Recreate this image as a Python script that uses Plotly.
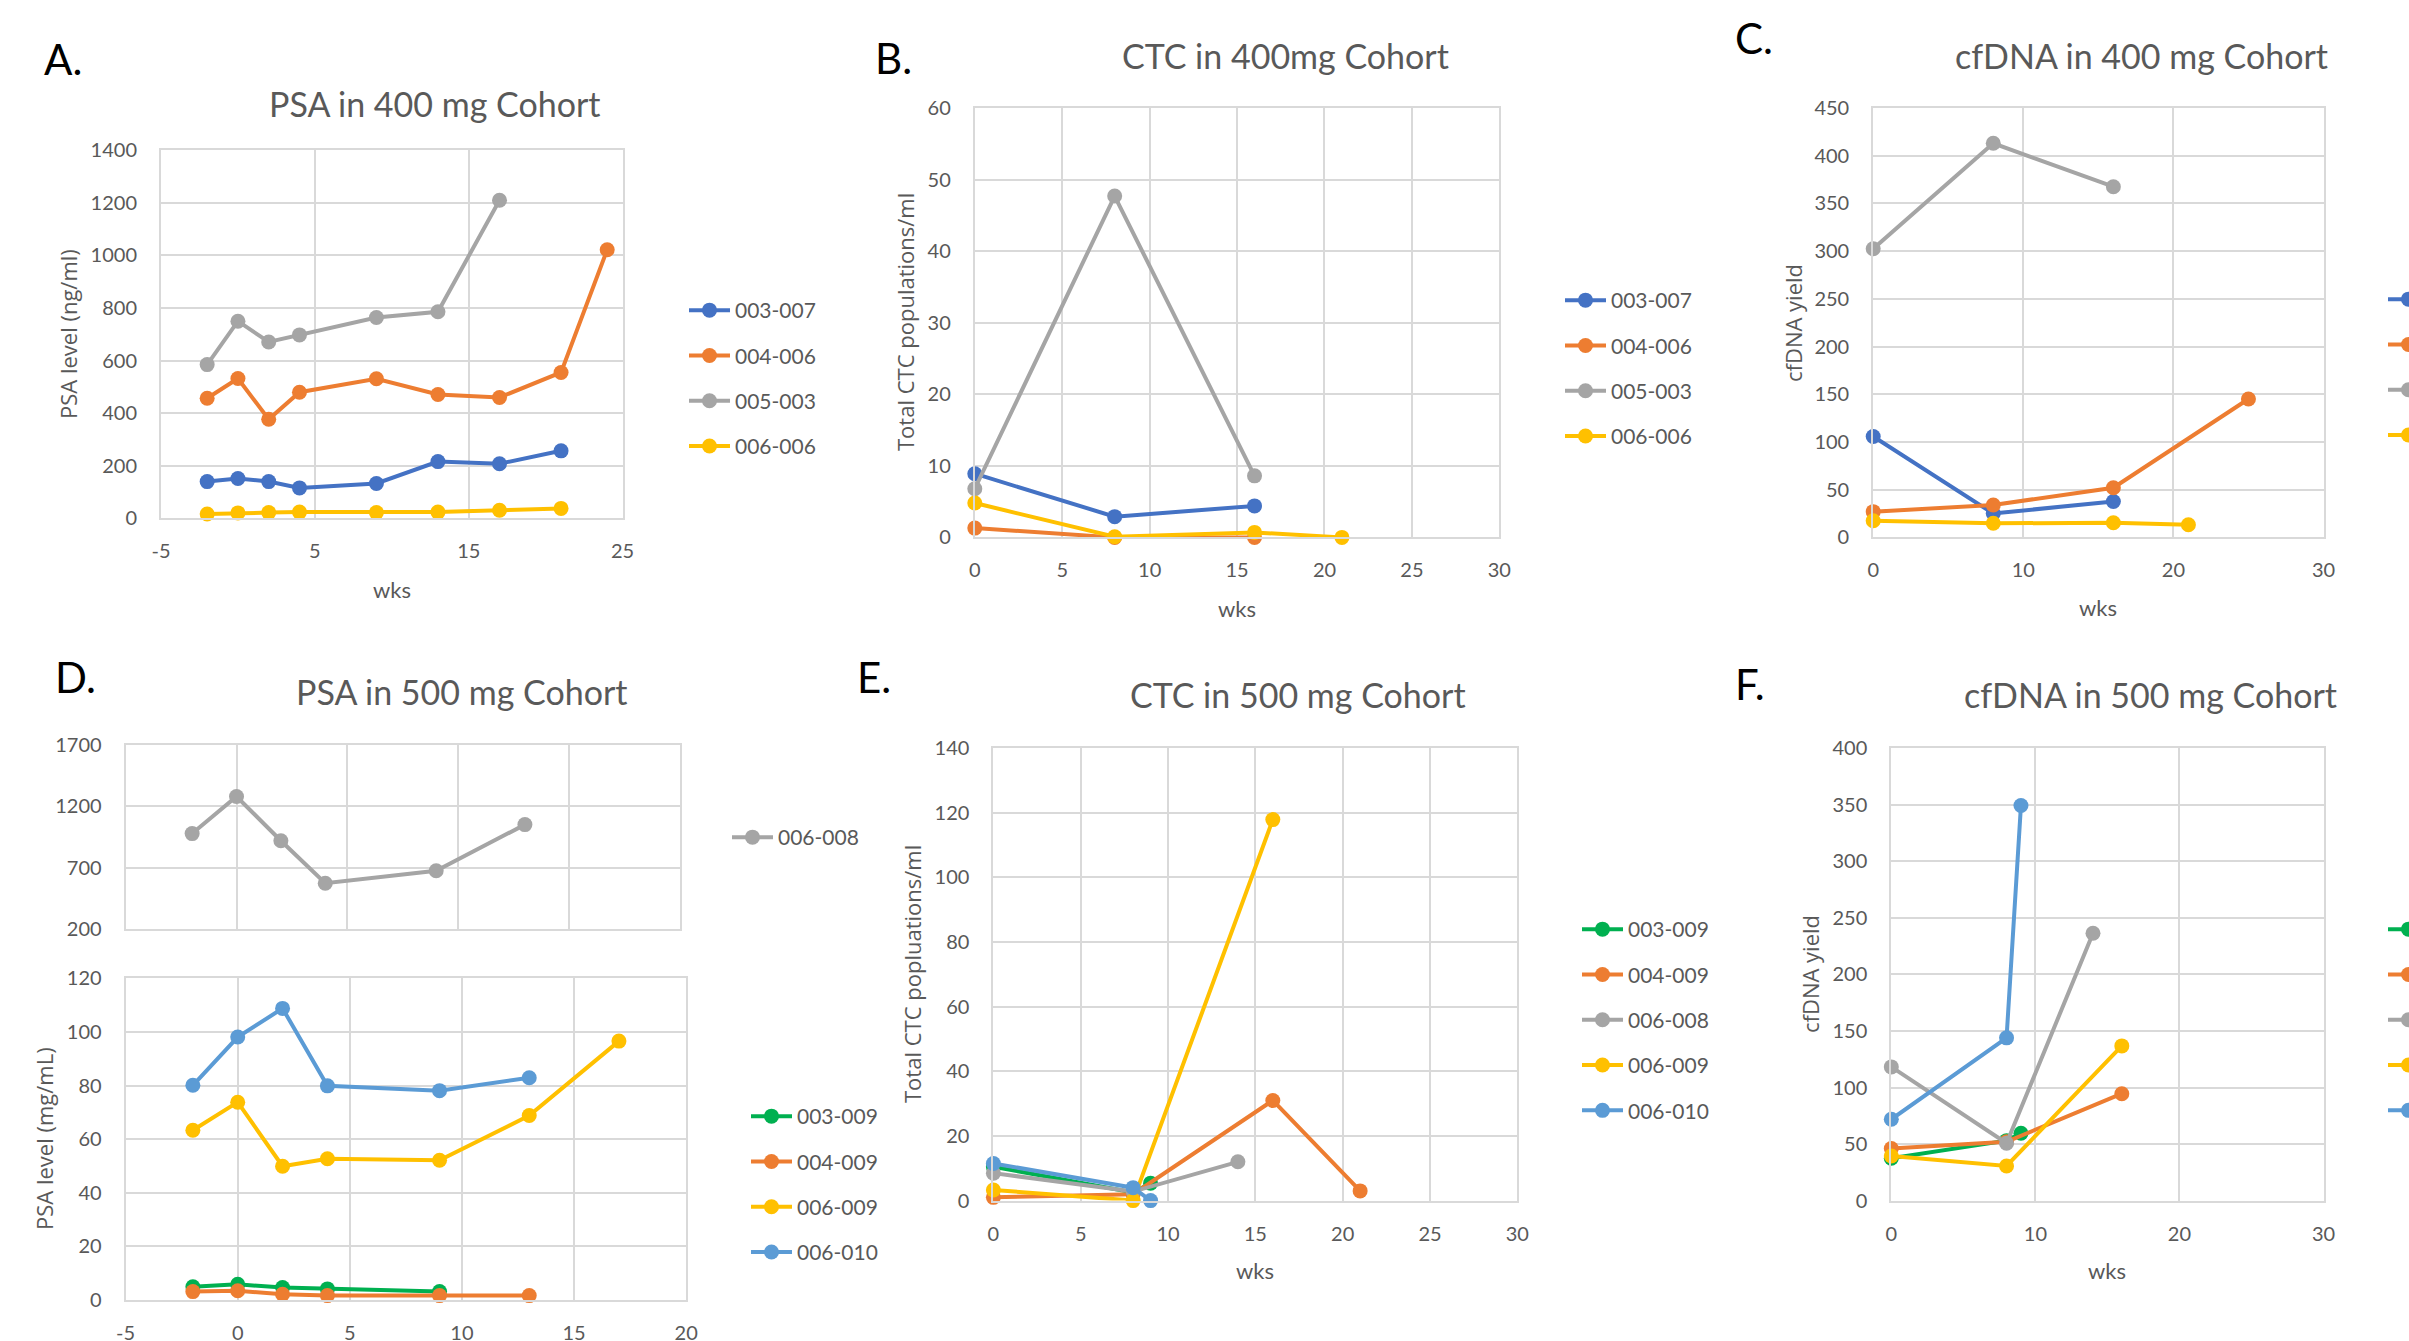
import plotly.graph_objects as go

W, H = 2409, 1341

# ---------------- DATA ----------------
# Panel A: PSA in 400 mg Cohort
A_x_003_007 = [-2, 0, 2, 4, 9, 13, 17, 21]
A_y_003_007 = [140, 152, 140, 116, 133, 216, 208, 257]
A_x_004_006 = [-2, 0, 2, 4, 9, 13, 17, 21, 24]
A_y_004_006 = [457, 532, 377, 480, 531, 471, 460, 555, 1022]
A_x_005_003 = [-2, 0, 2, 4, 9, 13, 17]
A_y_005_003 = [585, 750, 671, 698, 764, 786, 1210]
A_x_006_006 = [-2, 0, 2, 4, 9, 13, 17, 21]
A_y_006_006 = [17, 21, 22, 24, 22, 24, 31, 38]
A_xtick_vals = [-5, 5, 15, 25]
A_xtick_text = ["-5", "5", "15", "25"]

# Panel B: CTC in 400mg Cohort
B_x_003_007 = [0, 8, 16]
B_y_003_007 = [8.9, 2.9, 4.4]
B_x_004_006 = [0, 8, 16]
B_y_004_006 = [1.3, 0, 0]
B_x_005_003 = [0, 8, 16]
B_y_005_003 = [6.8, 47.7, 8.6]
B_x_006_006 = [0, 8, 16, 21]
B_y_006_006 = [4.8, 0.1, 0.7, 0]

# Panel C: cfDNA in 400 mg Cohort
C_x_003_007 = [0, 8, 16]
C_y_003_007 = [105.7, 25, 37.7]
C_x_004_006 = [0, 8, 16, 25]
C_y_004_006 = [27, 34, 52, 145]
C_x_005_003 = [0, 8, 16]
C_y_005_003 = [302.5, 413, 367.5]
C_x_006_006 = [0, 8, 16, 21]
C_y_006_006 = [17.5, 14.8, 15.3, 13.3]

# Panel D: PSA in 500 mg Cohort (broken axis)
D_x_006_008 = [-2, 0, 2, 4, 9, 13]
D_y_006_008 = [979, 1281, 921, 575, 677, 1052]
D_x_003_009 = [-2, 0, 2, 4, 9]
D_y_003_009 = [4.9, 5.8, 4.6, 4.1, 3.1]
D_x_004_009 = [-2, 0, 2, 4, 9, 13]
D_y_004_009 = [3.1, 3.4, 2.1, 1.6, 1.6, 1.6]
D_x_006_009 = [-2, 0, 2, 4, 9, 13, 17]
D_y_006_009 = [63.3, 73.8, 49.9, 52.7, 52.1, 68.8, 96.6]
D_x_006_010 = [-2, 0, 2, 4, 9, 13]
D_y_006_010 = [80.1, 98.1, 108.8, 79.9, 78.1, 82.9]
D_xtick_vals = [-5, 0, 5, 10, 15, 20]
D_xtick_text = ["-5", "0", "5", "10", "15", "20"]

# Panel E: CTC in 500 mg Cohort
E_x_003_009 = [0, 8, 9]
E_y_003_009 = [10.5, 2.5, 5.4]
E_x_004_009 = [0, 8, 16, 21]
E_y_004_009 = [1.0, 2.0, 31.0, 3.0]
E_x_006_008 = [0, 8, 14]
E_y_006_008 = [8.5, 2.8, 12.0]
E_x_006_009 = [0, 8, 16]
E_y_006_009 = [3.3, 0, 117.9]
E_x_006_010 = [0, 8, 9]
E_y_006_010 = [11.5, 4.0, 0]

# Panel F: cfDNA in 500 mg Cohort
F_x_003_009 = [0, 8, 9]
F_y_003_009 = [37.4, 53, 59.5]
F_x_004_009 = [0, 8, 16]
F_y_004_009 = [46, 52, 94.5]
F_x_006_008 = [0, 8, 14]
F_y_006_008 = [118.2, 50.7, 236.4]
F_x_006_009 = [0, 8, 16]
F_y_006_009 = [39.4, 30.6, 136.8]
F_x_006_010 = [0, 8, 9]
F_y_006_010 = [71.9, 143.9, 349.4]

# ---------------- STYLE ----------------
BLUE, ORANGE, GRAY, YELLOW, GREEN, LBLUE = "#4472C4", "#ED7D31", "#A5A5A5", "#FFC000", "#00B050", "#5B9BD5"
TXT = "#595959"
GRID = "#D9D9D9"


def px(x):
    return x / W


def py(y):
    return 1 - y / H


fig = go.Figure()


def add(x, y, name, color, xa, ya, legend):
    fig.add_trace(go.Scatter(
        x=x, y=y, name=name, mode="lines+markers",
        line=dict(color=color, width=4),
        marker=dict(color=color, size=15),
        xaxis=xa, yaxis=ya, legend=legend, legendgroup=legend + name,
        cliponaxis=False, showlegend=True,
    ))


# A
add(A_x_003_007, A_y_003_007, "003-007", BLUE, "x", "y", "legend")
add(A_x_004_006, A_y_004_006, "004-006", ORANGE, "x", "y", "legend")
add(A_x_005_003, A_y_005_003, "005-003", GRAY, "x", "y", "legend")
add(A_x_006_006, A_y_006_006, "006-006", YELLOW, "x", "y", "legend")
# B
add(B_x_003_007, B_y_003_007, "003-007", BLUE, "x2", "y2", "legend2")
add(B_x_004_006, B_y_004_006, "004-006", ORANGE, "x2", "y2", "legend2")
add(B_x_005_003, B_y_005_003, "005-003", GRAY, "x2", "y2", "legend2")
add(B_x_006_006, B_y_006_006, "006-006", YELLOW, "x2", "y2", "legend2")
# C
add(C_x_003_007, C_y_003_007, "003-007", BLUE, "x3", "y3", "legend3")
add(C_x_004_006, C_y_004_006, "004-006", ORANGE, "x3", "y3", "legend3")
add(C_x_005_003, C_y_005_003, "005-003", GRAY, "x3", "y3", "legend3")
add(C_x_006_006, C_y_006_006, "006-006", YELLOW, "x3", "y3", "legend3")
# D top
add(D_x_006_008, D_y_006_008, "006-008", GRAY, "x4", "y4", "legend4")
# D bottom
add(D_x_003_009, D_y_003_009, "003-009", GREEN, "x5", "y5", "legend5")
add(D_x_004_009, D_y_004_009, "004-009", ORANGE, "x5", "y5", "legend5")
add(D_x_006_009, D_y_006_009, "006-009", YELLOW, "x5", "y5", "legend5")
add(D_x_006_010, D_y_006_010, "006-010", LBLUE, "x5", "y5", "legend5")
# E
add(E_x_003_009, E_y_003_009, "003-009", GREEN, "x6", "y6", "legend6")
add(E_x_004_009, E_y_004_009, "004-009", ORANGE, "x6", "y6", "legend6")
add(E_x_006_008, E_y_006_008, "006-008", GRAY, "x6", "y6", "legend6")
add(E_x_006_009, E_y_006_009, "006-009", YELLOW, "x6", "y6", "legend6")
add(E_x_006_010, E_y_006_010, "006-010", LBLUE, "x6", "y6", "legend6")
# F
add(F_x_003_009, F_y_003_009, "003-009", GREEN, "x7", "y7", "legend7")
add(F_x_004_009, F_y_004_009, "004-009", ORANGE, "x7", "y7", "legend7")
add(F_x_006_008, F_y_006_008, "006-008", GRAY, "x7", "y7", "legend7")
add(F_x_006_009, F_y_006_009, "006-009", YELLOW, "x7", "y7", "legend7")
add(F_x_006_010, F_y_006_010, "006-010", LBLUE, "x7", "y7", "legend7")

TICKFONT = dict(family="Lato", size=20, color=TXT)


def xax(x0, x1, rng, dtick, tick0, anchor, labels=True, tickvals=None, ticktext=None):
    d = dict(domain=[px(x0), px(x1)], range=rng, dtick=dtick, tick0=tick0,
             anchor=anchor, showgrid=True, gridcolor=GRID, gridwidth=1.5,
             showline=True, mirror=True, linecolor=GRID, linewidth=2,
             zeroline=False, ticks="", tickfont=TICKFONT,
             showticklabels=labels, ticklabelstandoff=14, fixedrange=True)
    if tickvals is not None:
        d.update(tickmode="array", tickvals=tickvals, ticktext=ticktext)
    return d


def yax(y0, y1, rng, dtick, anchor):
    return dict(domain=[py(y1), py(y0)], range=rng, dtick=dtick, tick0=rng[0],
                anchor=anchor, showgrid=True, gridcolor=GRID, gridwidth=1.5,
                showline=True, mirror=True, linecolor=GRID, linewidth=2,
                zeroline=False, ticks="", tickfont=TICKFONT,
                ticklabelstandoff=18, fixedrange=True)


LEGFONT = dict(family="Lato", size=21, color=TXT)


def leg(xline, ytop):
    return dict(x=px(xline), y=py(ytop), xanchor="left", yanchor="top",
                xref="paper", yref="paper", bgcolor="rgba(0,0,0,0)",
                borderwidth=0, font=LEGFONT, itemwidth=41,
                tracegroupgap=15, traceorder="grouped")


layout = dict(
    width=W, height=H,
    margin=dict(l=0, r=0, t=0, b=0, pad=0, autoexpand=False),
    paper_bgcolor="white", plot_bgcolor="white",
    xaxis=xax(161, 622.6, [-5, 25], 10, -5, "y", tickvals=A_xtick_vals, ticktext=A_xtick_text),
    yaxis=yax(150.3, 518.4, [0, 1400], 200, "x"),
    xaxis2=xax(974.8, 1499.3, [0, 30], 5, 0, "y2"),
    yaxis2=yax(108, 537.4, [0, 60], 10, "x2"),
    xaxis3=xax(1873.2, 2323.5, [0, 30], 10, 0, "y3"),
    yaxis3=yax(108, 537.4, [0, 450], 50, "x3"),
    xaxis4=xax(125.6, 680.2, [-5, 20], 5, -5, "y4", labels=False),
    yaxis4=yax(745, 929.3, [200, 1700], 500, "x4"),
    xaxis5=xax(125.6, 686.2, [-5, 20], 5, -5, "y5", tickvals=D_xtick_vals, ticktext=D_xtick_text),
    yaxis5=yax(978.4, 1299.9, [0, 120], 20, "x5"),
    xaxis6=xax(993.4, 1517.3, [0, 30], 5, 0, "y6"),
    yaxis6=yax(748.2, 1200.6, [0, 140], 20, "x6"),
    xaxis7=xax(1891.3, 2323.5, [0, 30], 10, 0, "y7"),
    yaxis7=yax(748.2, 1200.6, [0, 400], 50, "x7"),
    legend=leg(684, 290),
    legend2=leg(1560, 280),
    legend3=leg(2383, 279),
    legend4=leg(727, 817),
    legend5=leg(746, 1096),
    legend6=leg(1577, 909),
    legend7=leg(2383, 909),
    showlegend=True,
)
fig.update_layout(**layout)

annots = []


def note(text, x, y, size, color, family="Lato", angle=0):
    annots.append(dict(text=text, x=px(x), y=py(y), xref="paper", yref="paper",
                       xanchor="center", yanchor="middle", showarrow=False,
                       textangle=angle, font=dict(family=family, size=size, color=color)))


def letter(text, x, y):
    annots.append(dict(text=text, x=px(x), y=py(y), xref="paper", yref="paper",
                       xanchor="left", yanchor="middle", showarrow=False,
                       font=dict(family="Lato", size=42, color="black")))


# panel letters
letter("A.", 42, 59)
letter("B.", 873, 58)
letter("C.", 1733, 38)
letter("D.", 53, 677)
letter("E.", 855, 677)
letter("F.", 1733, 684)

# titles
note("PSA in 400 mg Cohort", 434.5, 104, 34, TXT)
note("CTC in 400mg Cohort", 1286, 55, 34, TXT)
note("cfDNA in 400 mg Cohort", 2141, 55, 34, TXT)
note("PSA in 500 mg Cohort", 462, 691, 34, TXT)
note("CTC in 500 mg Cohort", 1298, 694, 34, TXT)
note("cfDNA in 500 mg Cohort", 2150, 694, 34, TXT)

# x titles
note("wks", 392, 589, 22, TXT)
note("wks", 1237, 608, 22, TXT)
note("wks", 2098, 607, 22, TXT)
note("wks", 1255, 1270, 22, TXT)
note("wks", 2107, 1270, 22, TXT)

# y titles
note("PSA level (ng/ml)", 68, 334, 22, TXT, "Open Sans", -90)
note("Total CTC populations/ml", 905, 322, 22, TXT, "Open Sans", -90)
note("cfDNA yield", 1793, 323, 22, TXT, "Open Sans", -90)
note("PSA level (mg/mL)", 44, 1139, 22, TXT, "Open Sans", -90)
note("Total CTC popluations/ml", 912, 974, 22, TXT, "Open Sans", -90)
note("cfDNA yield", 1810, 974, 22, TXT, "Open Sans", -90)

fig.update_layout(annotations=annots)

fig.write_html(
    "out.html",
    config={"displayModeBar": False},
    post_script="document.body.style.margin='0';document.body.style.overflow='hidden';",
)
